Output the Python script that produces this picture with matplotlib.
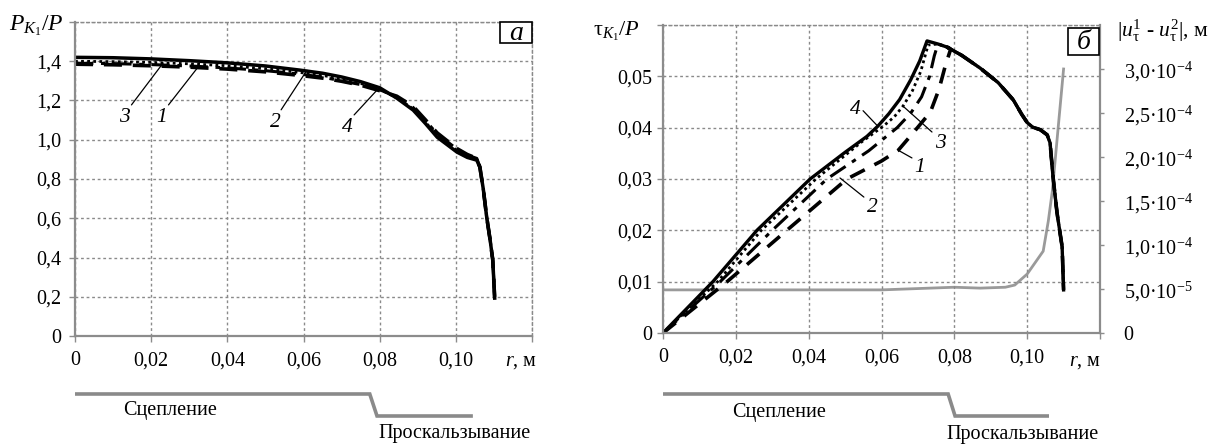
import matplotlib
matplotlib.use('Agg')
import matplotlib.pyplot as plt
from matplotlib.patches import Rectangle

plt.rcParams['font.family'] = ['Liberation Serif', 'DejaVu Serif']
plt.rcParams['mathtext.fontset'] = 'custom'
plt.rcParams['mathtext.rm'] = 'Liberation Serif'
plt.rcParams['mathtext.it'] = 'Liberation Serif:italic'
plt.rcParams['mathtext.bf'] = 'Liberation Serif:bold'

# ---------------- data: panel a (P_K1 / P vs r) ----------------
ra = [0, 0.01, 0.02, 0.03, 0.04, 0.05, 0.059, 0.065, 0.07, 0.075, 0.08, 0.0845, 0.0888,
      0.092, 0.0951, 0.1003, 0.103, 0.1055, 0.1063, 0.1072, 0.1081, 0.109, 0.1097, 0.1102]
pa4 = [1.42, 1.418, 1.412, 1.403, 1.392, 1.376, 1.355, 1.339, 1.32, 1.296, 1.265, 1.212,
       1.151, 1.083, 1.013, 0.937, 0.91, 0.896, 0.86, 0.75, 0.606, 0.49, 0.387, 0.193]
pa3 = [1.40, 1.398, 1.394, 1.387, 1.377, 1.362, 1.343, 1.328, 1.31, 1.287, 1.258, 1.214,
       1.157, 1.09, 1.022, 0.945, 0.918, 0.902, 0.86, 0.75, 0.606, 0.49, 0.387, 0.193]
pa2 = [1.39, 1.388, 1.383, 1.376, 1.366, 1.352, 1.335, 1.319, 1.30, 1.281, 1.255, 1.218,
       1.164, 1.098, 1.03, 0.952, 0.922, 0.905, 0.862, 0.75, 0.606, 0.49, 0.387, 0.193]
pa1 = [1.385, 1.382, 1.377, 1.37, 1.36, 1.346, 1.328, 1.314, 1.298, 1.278, 1.25, 1.222,
       1.17, 1.102, 1.035, 0.955, 0.925, 0.905, 0.862, 0.75, 0.606, 0.49, 0.387, 0.193]

# ---------------- data: panel b (tau_K1 / P vs r) ----------------
r_slip = [0.0755, 0.078, 0.082, 0.0871, 0.092, 0.0962, 0.0985, 0.1, 0.1015, 0.1036,
          0.1055, 0.1063, 0.1071, 0.1082, 0.1096, 0.11]
t_slip = [0.0563, 0.0557, 0.0541, 0.0516, 0.0488, 0.0454, 0.0426, 0.0410, 0.0401, 0.0396,
          0.0386, 0.037, 0.0304, 0.0234, 0.0168, 0.0084]

rb4 = [0, 0.0137, 0.0258, 0.0404, 0.05, 0.056, 0.059, 0.062, 0.065, 0.068, 0.0705, 0.0725]
tb4 = [0, 0.01, 0.02, 0.03, 0.0352, 0.0383, 0.0403, 0.0427, 0.0455, 0.0493, 0.0530, 0.0569]
rb3 = [0, 0.015, 0.027, 0.042, 0.0545, 0.0605, 0.0635, 0.0659, 0.0685, 0.0708, 0.0728]
tb3 = [0, 0.01, 0.02, 0.03, 0.0372, 0.0403, 0.0421, 0.0442, 0.0472, 0.0510, 0.0561]
rb2 = [0, 0.0157, 0.030, 0.045, 0.0565, 0.0643, 0.068, 0.071, 0.0732, 0.0745]
tb2 = [0, 0.01, 0.02, 0.03, 0.0355, 0.040, 0.0428, 0.046, 0.0500, 0.0540]
rb1 = [0, 0.0176, 0.034, 0.0505, 0.0600, 0.0646, 0.0687, 0.0734, 0.0758, 0.0775, 0.079]
tb1 = [0, 0.01, 0.02, 0.03, 0.0335, 0.0356, 0.0390, 0.043, 0.0475, 0.0520, 0.0553]

# slip displacement |u1 - u2| (right axis)
ru = [0, 0.04, 0.06, 0.08, 0.0871, 0.094, 0.0966, 0.1, 0.1044, 0.1058, 0.1069, 0.11]
uu = [4.9e-5, 4.9e-5, 4.9e-5, 5.2e-5, 5.1e-5, 5.2e-5, 5.45e-5, 6.7e-5, 9.3e-5,
      1.27e-4, 1.61e-4, 3.0e-4]

# zone bands (stick / slip)
band_a_r = [0, 0.0774, 0.0793, 0.104]
band_b_r = [0.0005, 0.0783, 0.0802, 0.1055]
band_lvl = [1, 1, 0, 0]

# ticks
xticks = [0, 0.02, 0.04, 0.06, 0.08, 0.10]
xlabels = ['0', '0,02', '0,04', '0,06', '0,08', '0,10']
ya_ticks = [0, 0.2, 0.4, 0.6, 0.8, 1.0, 1.2, 1.4, 1.6]
ya_labels = ['0', '0,2', '0,4', '0,6', '0,8', '1,0', '1,2', '1,4', '']
yb_ticks = [0, 0.01, 0.02, 0.03, 0.04, 0.05, 0.06]
yb_labels = ['0', '0,01', '0,02', '0,03', '0,04', '0,05', '']
yu_ticks = [0, 5e-5, 1e-4, 1.5e-4, 2e-4, 2.5e-4, 3e-4]
yu_labels = ['0', '5,0·10$^{-5}$', '1,0·10$^{-4}$', '1,5·10$^{-4}$', '2,0·10$^{-4}$',
             '2,5·10$^{-4}$', '3,0·10$^{-4}$']

W, H = 1222, 444
fig = plt.figure(figsize=(W / 100, H / 100), dpi=100)

GRID = '#8a8a8a'
SPINE = '#8c8c8c'
FS = 14.5


def style(ax, ypad):
    for s in ['top', 'right']:
        ax.spines[s].set_linestyle((0, (2, 2)))
        ax.spines[s].set_color(GRID)
        ax.spines[s].set_linewidth(1.0)
    for s in ['left', 'bottom']:
        ax.spines[s].set_color(SPINE)
        ax.spines[s].set_linewidth(1.6)
    ax.grid(True, linestyle=(0, (2, 2)), color=GRID, lw=1.0)
    ax.set_axisbelow(True)
    ax.tick_params(axis='both', direction='out', length=4, width=1, color=SPINE,
                   labelsize=FS)
    ax.tick_params(axis='x', pad=7)
    ax.tick_params(axis='y', pad=ypad)
    ax.set_xlim(0, 0.12)
    ax.set_xticks(xticks + [0.12])
    ax.set_xticklabels(xlabels + [''])


# ---------------- panel a ----------------
axA = fig.add_axes([75 / W, 1 - 336 / H, 457 / W, 314 / H])
style(axA, 6)
axA.set_ylim(0, 1.6)
axA.set_yticks(ya_ticks)
axA.set_yticklabels(ya_labels)
axA.plot(ra, pa1, color='black', lw=2.6, ls=(0, (5, 3)))
axA.plot(ra, pa2, color='black', lw=2.2, ls=(0, (6, 2.5, 1.5, 2.5)))
axA.plot(ra, pa3, color='black', lw=2.0, ls=(0, (1, 1.2)))
axA.plot(ra, pa4, color='black', lw=2.5)

lab_kw = dict(fontsize=15.5, style='italic', ha='center', va='center')
arr = dict(arrowstyle='-', lw=0.9, color='black', shrinkA=0, shrinkB=0, relpos=(0.85, 0.95))
axA.annotate('3', xy=(0.0231, 1.39), xytext=(0.0131, 1.115), arrowprops=arr, **lab_kw)
axA.annotate('1', xy=(0.0323, 1.37), xytext=(0.0228, 1.115), arrowprops=arr, **lab_kw)
axA.annotate('2', xy=(0.0609, 1.354), xytext=(0.0525, 1.09), arrowprops=arr, **lab_kw)
axA.annotate('4', xy=(0.0793, 1.253), xytext=(0.0714, 1.064), arrowprops=arr, **lab_kw)

axA.add_patch(Rectangle((0.93, 0.933), 0.07, 0.067, transform=axA.transAxes,
                        fc='white', ec='black', lw=1.2, zorder=5, clip_on=False))
axA.text(0.965, 0.962, 'a', transform=axA.transAxes, fontsize=20, style='italic',
         ha='center', va='center', zorder=6)

fig.text(36 / W, 1 - 26 / H, r'$P_{K_1}/P$', fontsize=17, ha='center', va='center')
fig.text(537 / W, 1 - 361 / H, r'$r$, м', fontsize=FS, ha='right', va='center')

# ---------------- panel b ----------------
axB = fig.add_axes([663 / W, 1 - 333 / H, 437 / W, 308 / H])
style(axB, 4)
axB.set_ylim(0, 0.06)
axB.set_yticks(yb_ticks)
axB.set_yticklabels(yb_labels)
axB.spines['right'].set_visible(False)

ax2 = axB.twinx()
ax2.set_ylim(0, 3.5e-4)
ax2.set_yticks(yu_ticks)
ax2.set_yticklabels(yu_labels)
for s in ['left', 'top', 'bottom']:
    ax2.spines[s].set_visible(False)
ax2.spines['right'].set_color(SPINE)
ax2.spines['right'].set_linewidth(1.6)
ax2.tick_params(axis='y', direction='out', length=3, width=1, color=SPINE,
                labelsize=FS, pad=14)
ax2.plot(ru, uu, color='#9a9a9a', lw=2.0)

axB.set_zorder(ax2.get_zorder() + 1)
axB.patch.set_visible(False)

axB.plot(rb1 + r_slip[1:], tb1 + t_slip[1:], color='black', lw=2.6, ls=(0, (4.5, 3)))
axB.plot(rb2 + r_slip, tb2 + t_slip, color='black', lw=2.2, ls=(0, (6, 2.5, 1.5, 2.5)))
axB.plot(rb3 + r_slip, tb3 + t_slip, color='black', lw=2.0, ls=(0, (1, 1.2)))
axB.plot(rb4 + r_slip, tb4 + t_slip, color='black', lw=2.4)

axB.annotate('4', xy=(0.0591, 0.0402), xytext=(0.0527, 0.0435),
             arrowprops=dict(arr, relpos=(1.0, 0.6)), **lab_kw)
axB.annotate('3', xy=(0.0659, 0.0442), xytext=(0.0761, 0.0370),
             arrowprops=dict(arr, relpos=(0.1, 0.9)), **lab_kw)
axB.annotate('1', xy=(0.0646, 0.0356), xytext=(0.0706, 0.0322),
             arrowprops=dict(arr, relpos=(0.1, 0.9)), **lab_kw)
axB.annotate('2', xy=(0.0486, 0.0302), xytext=(0.0574, 0.0244),
             arrowprops=dict(arr, relpos=(0.1, 0.9)), **lab_kw)

axB.add_patch(Rectangle((0.927, 0.903), 0.071, 0.087, transform=axB.transAxes,
                        fc='white', ec='black', lw=1.2, zorder=5, clip_on=False))
axB.text(0.962, 0.943, 'б', transform=axB.transAxes, fontsize=20, style='italic',
         ha='center', va='center', zorder=6)

fig.text(617 / W, 1 - 31 / H, r'$\mathrm{τ}_{K_1}/P$', fontsize=16, ha='center', va='center')
fig.text(1117 / W, 1 - 31 / H,
         r'$|u_{\mathrm{τ}}^{1}$ - $u_{\mathrm{τ}}^{2}|$, м',
         fontsize=15.5, ha='left', va='center')
fig.text(1101 / W, 1 - 361 / H, r'$r$, м', fontsize=FS, ha='right', va='center')

# ---------------- bands ----------------
for left, width, br, t1x, t1y, t2x, t2y in [
        (75, 457, band_a_r, 0.0249, 0.27, 0.0997, -0.78),
        (663, 437, band_b_r, 0.0319, 0.14, 0.0986, -0.82)]:
    bx = fig.add_axes([left / W, 0, width / W, 64 / H])
    bx.set_xlim(0, 0.12)
    bx.set_ylim(-1.2727, 1.636)
    bx.axis('off')
    bx.plot(br, band_lvl, color='#8a8a8a', lw=2.6, solid_joinstyle='miter')
    bx.text(t1x, t1y, 'Сцепление', fontsize=FS, ha='center', va='center')
    bx.text(t2x, t2y, 'Проскальзывание', fontsize=FS, ha='center', va='center',
            clip_on=False)

fig.savefig('out.png', dpi=100)
